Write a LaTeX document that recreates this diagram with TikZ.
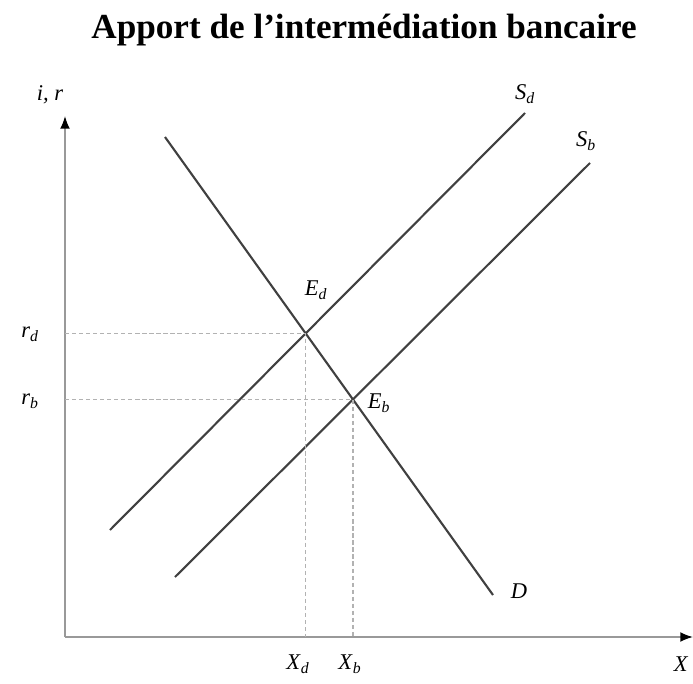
\documentclass[tikz,border=0pt]{standalone}
\usepackage{fontspec}
\setmainfont{Liberation Serif}
\usetikzlibrary{positioning, calc, arrows.meta}

\newcommand{\lab}[2]{\textit{#1}\textsubscript{\textit{#2}}}

\begin{document}
\begin{tikzpicture}[
        x=0.025cm, y=-0.025cm,
        every node/.style={font=\fontsize{16}{18}\selectfont, inner sep=1pt},
        curve/.style={draw=black!75, line width=1.5pt},
        axis/.style={draw=black!40, line width=1.2pt},
        guide/.style={draw=black!30, line width=0.8pt, dash pattern=on 3pt off 2pt},
        tip/.style={-{Latex[length=9pt, width=7pt, color=black]}}
    ]
        \useasboundingbox (0,0) rectangle (693,684);

        % Title
        \node[font=\fontsize{25}{30}\selectfont\bfseries] (title) at (364,30) {Apport de l'intermédiation bancaire};

        % Axes
        \coordinate (O) at (65,637);
        \coordinate (ytop) at (65,116);
        \coordinate (xend) at (693,637);
        \draw[axis, tip] (O) -- (ytop);
        \draw[axis, tip] (O) -- (xend);

        % Curves
        \coordinate (D1) at (165,137);
        \coordinate (D2) at (493,595);
        \coordinate (Sd1) at (110,530);
        \coordinate (Sd2) at (525,113);
        \coordinate (Sb1) at (175,577);
        \coordinate (Sb2) at (590,163);
        \draw[curve] (D1) -- (D2);
        \draw[curve] (Sd1) -- (Sd2);
        \draw[curve] (Sb1) -- (Sb2);

        % Equilibria
        \coordinate (Ed) at (intersection of D1--D2 and Sd1--Sd2);
        \coordinate (Eb) at (intersection of D1--D2 and Sb1--Sb2);
        \draw[guide] (Ed -| O) -- (Ed) -- (Ed |- O);
        \draw[guide] (Eb -| O) -- (Eb) -- (Eb |- O);

        % Labels
        \node (yl) at (50,95) {\textit{i, r}};
        \node (xl) at (681,664) {\textit{X}};
        \node (sdl) at (525,94) {\lab{S}{d}};
        \node (sbl) at (586,141) {\lab{S}{b}};
        \node (dl) at (519,591) {\textit{D}};
        \node (edl) at (316,290) {\lab{E}{d}};
        \node (ebl) at (379,403) {\lab{E}{b}};
        \node (rdl) at (30,334) {\lab{r}{d}};
        \node (rbl) at (30,401) {\lab{r}{b}};
        \node (xdl) at (298,664) {\lab{X}{d}};
        \node (xbl) at (350,664) {\lab{X}{b}};
    \end{tikzpicture}
\end{document}
